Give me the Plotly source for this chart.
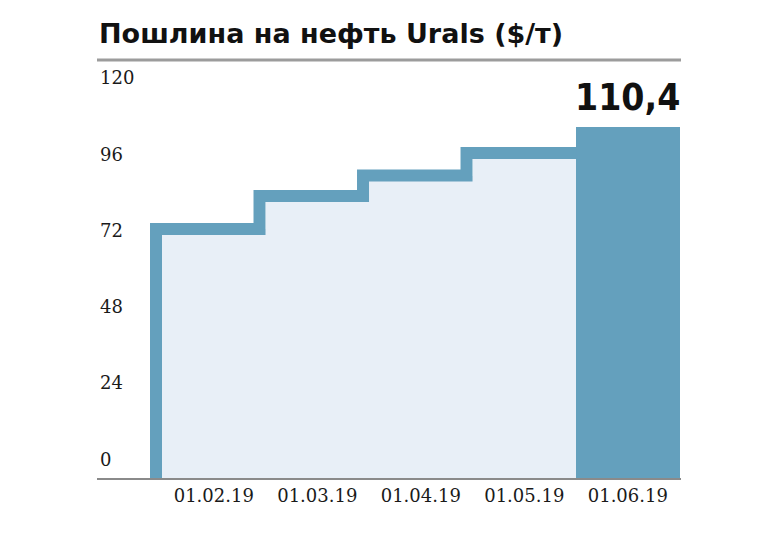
import plotly.graph_objects as go

# ---- data ----
dates = ["01.02.19", "01.03.19", "01.04.19", "01.05.19", "01.06.19"]
duty = [78.4, 88.8, 95.2, 102.3, 110.4]
y_ticks = [0, 24, 48, 72, 96, 120]
title_text = "Пошлина на нефть Urals ($/т)"

# ---- style ----
DARK = "#64a0bd"
LIGHT = "#e8eff7"
# page body has an 8px margin, so the figure is sized to fit the 777x536 window
W, H = 769, 520
ML, MR, MT, MB = 89, 96, 57, 50
X_RANGE = [-1.128, 4.514]
Y_RANGE = [0, 130]
LINE_W = 12

plot_w = W - ML - MR
px_per_x = plot_w / (X_RANGE[1] - X_RANGE[0])
half_lw = (LINE_W / 2) / px_per_x

xs = list(range(len(dates)))
n_hist = len(dates) - 1

# step outline of the historical values (outer edge of the light area)
line_x = [xs[0] - 0.5 - half_lw]
line_y = [0]
for i in range(n_hist):
    line_x.append(xs[i] - 0.5 - half_lw)
    line_y.append(duty[i])
line_x.append(xs[n_hist] - 0.5)
line_y.append(duty[n_hist - 1])

colors = [LIGHT] * n_hist + [DARK]

fig = go.Figure()
fig.add_trace(go.Bar(
    x=xs, y=duty, width=1.0, marker=dict(color=colors, line=dict(width=0)),
    hoverinfo="skip", showlegend=False,
))
fig.add_trace(go.Scatter(
    x=line_x, y=line_y, mode="lines", line=dict(color=DARK, width=LINE_W, shape="hv"),
    hoverinfo="skip", showlegend=False,
))

fig.add_annotation(
    x=xs[-1], y=duty[-1], text="<b>" + f"{duty[-1]:.1f}".replace(".", ",") + "</b>",
    showarrow=False, xanchor="center", yanchor="bottom", yshift=6,
    font=dict(family="DejaVu Sans Condensed, DejaVu Sans, sans-serif", size=37, color="#111111"),
)

fig.add_annotation(
    x=0, xref="paper", y=1, yref="paper", yshift=MT - 25, xanchor="left", yanchor="middle",
    text="<b>" + title_text + "</b>", showarrow=False,
    font=dict(family="DejaVu Sans, sans-serif", size=27, color="#111111"),
)

plot_h = H - MT - MB
fig.add_shape(
    type="line", xref="paper", yref="paper", x0=0, x1=1,
    y0=1 + 5 / plot_h, y1=1 + 5 / plot_h,
    line=dict(color="#9c9c9c", width=3),
)

fig.update_layout(
    width=W, height=H,
    margin=dict(l=ML, r=MR, t=MT, b=MB),
    paper_bgcolor="white", plot_bgcolor="white",
    bargap=0,
    xaxis=dict(
        range=X_RANGE, tickvals=xs, ticktext=dates, showgrid=False, zeroline=False,
        showline=True, linecolor="#8a8a8a", linewidth=2, ticks="",
        tickfont=dict(family="DejaVu Serif, serif", size=18, color="#1a1a1a"),
    ),
    yaxis=dict(
        range=Y_RANGE, tickvals=y_ticks, showgrid=False, zeroline=False,
        showline=False, ticks="", ticklabelposition="inside top", ticklabelshift=-6,
        tickfont=dict(family="DejaVu Serif, serif", size=18, color="#1a1a1a"),
    ),
)

fig.write_html("out.html")
